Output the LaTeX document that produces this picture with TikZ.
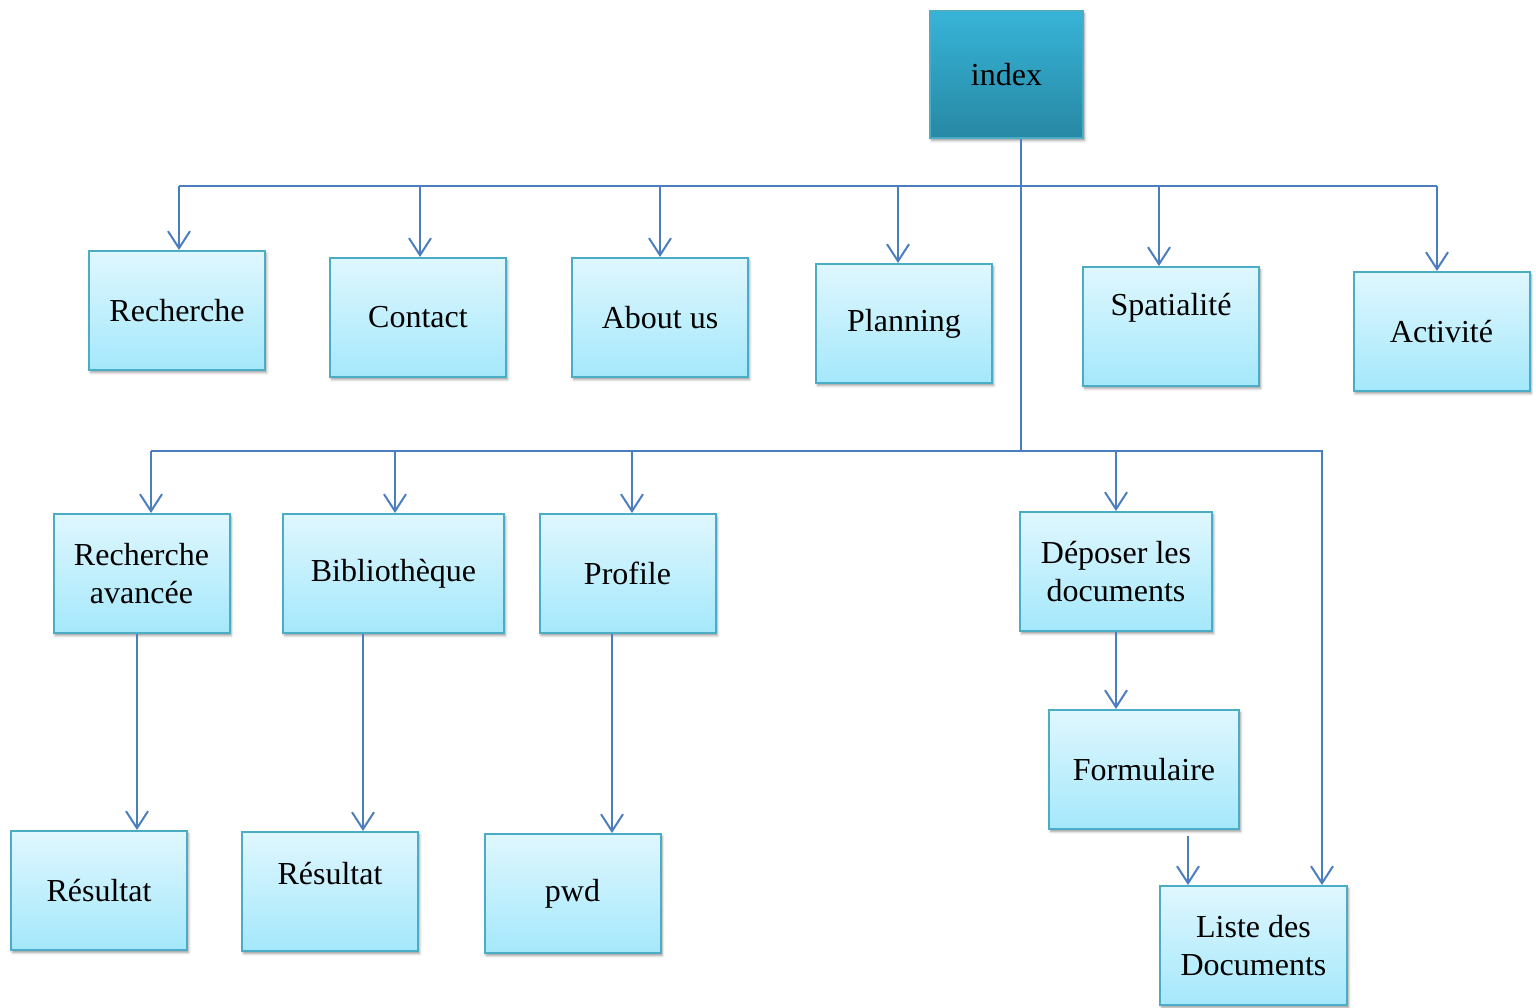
\documentclass[tikz,border=0pt]{standalone}
\usepackage{fontspec}
\setmainfont{Liberation Serif}
\usetikzlibrary{arrows.meta,shadows.blur}
\definecolor{linkblue}{HTML}{4A7EBF}
\definecolor{boxedge}{HTML}{4BACC6}
\definecolor{boxtop}{HTML}{E0F7FE}
\definecolor{boxbot}{HTML}{A4E8FB}
\definecolor{hubtop}{HTML}{37B4D8}
\definecolor{hubbot}{HTML}{2788A3}
\begin{document}
\begin{tikzpicture}[x=0.5pt,y=-0.5pt,
  box/.style={draw=boxedge, line width=1pt, top color=boxtop, bottom color=boxbot,
    minimum width=88pt, minimum height=59.5pt, inner sep=2pt, align=center,
    font=\fontsize{16}{19}\selectfont,
    blur shadow={shadow xshift=0.8pt, shadow yshift=-1.3pt, shadow blur radius=1.3pt, shadow opacity=40}},
  hub/.style={box, top color=hubtop, bottom color=hubbot, minimum width=76.5pt, minimum height=63.5pt},
  lbl/.style={font=\fontsize{16}{19}\selectfont},
  link/.style={draw=linkblue, line width=1pt},
  arr/.style={link, -{Straight Barb[length=8.5pt, width=11pt, line width=1pt]}}]

\useasboundingbox (0,0) rectangle (1536,1007);

% boxes
\node[hub] (index) at (1006.5,74.5) {index};

\node[box] (rech)    at (177,310.5)    {Recherche};
\node[box] (contact) at (418,317.5)    {Contact};
\node[box] (about)   at (660,317.5)    {About us};
\node[box] (plan)    at (904,323.5)    {Planning};
\node[box, label={[lbl,yshift=9.25pt]center:Spatialité}] (spat) at (1171,326.5) {};
\node[box] (activ)   at (1441.5,331.5) {Activité};

\node[box] (rav)  at (141.5,573.5) {Recherche\\avancée};
\node[box, minimum width=110.5pt] (bib) at (393.5,573.5) {\raisebox{-1.5pt}{Bibliothèque}};
\node[box] (prof) at (627.5,573.5) {Profile};
\node[box, minimum width=96pt] (dep) at (1116,571.5) {Déposer les\\documents};
\node[box, minimum width=95pt] (form) at (1144,769.5) {Formulaire};
\node[box, minimum width=93.5pt] (liste) at (1253.5,945.5) {Liste des\\Documents};

\node[box] (res1) at (99,890.5) {Résultat};
\node[box, label={[lbl,yshift=8.75pt]center:Résultat}] (res2) at (330,891.5) {};
\node[box] (pwd)  at (572.5,893.5) {\raisebox{-1.5pt}{pwd}};

% bus lines
\coordinate (bus1) at (1021,186);
\coordinate (bus2) at (1021,451);

\draw[link] ([xshift=7.25pt]index.south) -- (bus2);
\draw[link] ([xshift=1pt]rech.north |- bus1) -- ([xshift=-2.25pt]activ.north |- bus1);

\draw[arr] ([xshift=1pt]rech.north |- bus1)     -- ([xshift=1pt]rech.north);
\draw[arr] ([xshift=1pt]contact.north |- bus1)  -- ([xshift=1pt]contact.north);
\draw[arr] (about.north |- bus1)                -- (about.north);
\draw[arr] ([xshift=-3pt]plan.north |- bus1)    -- ([xshift=-3pt]plan.north);
\draw[arr] ([xshift=-6pt]spat.north |- bus1)    -- ([xshift=-6pt]spat.north);
\draw[arr] ([xshift=-2.25pt]activ.north |- bus1) -- ([xshift=-2.25pt]activ.north);

\draw[arr] ([xshift=4.75pt]rav.north |- bus2) -| ([xshift=34.25pt]liste.north);
\draw[arr] ([xshift=4.75pt]rav.north |- bus2)  -- ([xshift=4.75pt]rav.north);
\draw[arr] ([xshift=0.75pt]bib.north |- bus2)  -- ([xshift=0.75pt]bib.north);
\draw[arr] ([xshift=2.25pt]prof.north |- bus2) -- ([xshift=2.25pt]prof.north);
\draw[arr] (dep.north |- bus2)                 -- (dep.north);

% second-level links
\draw[arr] ([xshift=-2.25pt]rav.south)  -- ([xshift=-2.25pt]rav.south |- res1.north);
\draw[arr] ([xshift=-15.25pt]bib.south) -- ([xshift=-15.25pt]bib.south |- res2.north);
\draw[arr] ([xshift=-7.75pt]prof.south) -- ([xshift=-7.75pt]prof.south |- pwd.north);
\draw[arr] (dep.south) -- (form.north -| dep.south);
\draw[arr] ([xshift=22pt,yshift=-3pt]form.south) -- ([xshift=22pt]form.south |- liste.north);

\end{tikzpicture}
\end{document}
